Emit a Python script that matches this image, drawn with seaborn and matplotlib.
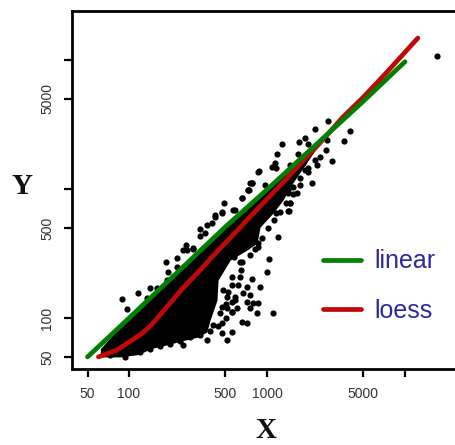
# -*- coding: utf-8 -*-
"""
Log-log scatter of Y against X with linear and loess fits.
"""

import matplotlib
matplotlib.use('Agg')
import matplotlib.pyplot as plt
import seaborn as sns


# =============================================================================
# Data
# =============================================================================

linear_x = [50, 100, 500, 1000, 5000, 10000]
linear_y = [50, 100, 510, 990, 4800, 9700]

loess_x = [60, 81.5, 120, 142, 188, 246, 327, 431, 567, 752, 1000, 1396, 2420, 3550, 5000, 7413, 12400]
loess_y = [50, 56.5, 74, 86, 122, 171, 235, 325, 440, 607, 836, 1216, 2276, 3614, 5160, 8070, 14800]

# the solid part of the cloud, as upper and lower edge
cloud_x = [62, 86, 114, 149, 188, 234, 311, 366, 386, 434, 442, 540, 716, 847, 890, 1105, 1306, 1470, 2420]
cloud_low = [50, 50, 52, 58.5, 62, 66, 71, 78, 96, 138, 197, 281, 337, 381, 507, 651, 822, 1038, 2276]
cloud_high = [58, 86, 114, 150, 190, 238, 316, 374, 394, 444, 452, 552, 730, 865, 908, 1115, 1320, 1480, 2420]

# single points standing clear of the cloud
point_x = [247, 277, 366, 406, 470, 510, 554, 457, 470, 510, 554, 603, 656, 713, 554, 590, 510, 480,
           554, 640, 774, 890, 713, 752, 675, 713, 795, 860, 752, 1105, 841, 1000, 1037, 656, 576,
           1203, 860, 818, 1447, 1470, 1420, 752, 735, 656, 488, 470, 420, 397, 327, 355, 259, 265,
           292, 184, 221, 116, 88.5, 134, 188, 159,
           17100, 4000, 3600, 2760, 2230, 1900, 1710, 1280, 1190, 1140, 1170, 1080, 875, 775, 733,
           570, 1680, 1990, 1470, 2680, 2960, 2420, 2230, 2290, 1990, 2110, 1730, 1550, 1430, 1470,
           1430, 1210, 1170, 970, 1050, 1640, 1830, 1890, 2730]
point_y = [62, 122, 67.5, 88, 76.5, 67.5, 78, 109, 122, 119, 112, 119, 94, 91.5, 134, 146, 146, 165,
           180, 209, 200, 173, 175, 151, 156, 134, 131, 131, 119, 109, 109, 228, 287, 273, 296,
           422, 379, 346, 680, 775, 983, 1110, 983, 846, 783, 660, 610, 542, 488, 454, 368, 337,
           346, 273, 250, 157, 140, 143, 197, 170,
           10740, 2800, 2350, 3370, 2920, 2470, 2300, 2220, 1860, 1580, 1450, 1490, 1390, 1110, 983,
           687, 1870, 2230, 1530, 2000, 1650, 1780, 1680, 1530, 1450, 1120, 1210, 1040, 925, 775,
           680, 822, 648, 1075, 875, 925, 1580, 1400, 2400]

# points along the rim of the cloud, which give it its rough edge
rim_x = [73, 94, 120, 142, 168, 198, 234, 277, 327, 386, 442, 470, 505, 558, 505, 587, 522, 615, 558,
         650, 637, 752, 860, 920, 1020, 1120, 1240, 1370, 1550, 1730, 1990,
         420, 470, 585, 655, 725, 780, 860, 290, 367, 97, 142, 192, 222, 246, 327]
rim_y = [51.6, 50, 54.5, 57.5, 60.7, 63, 66, 71, 74, 79, 87, 92, 100, 111, 128, 138, 159, 180, 208,
         235, 272, 308, 355, 417, 498, 575, 660, 778, 915, 1070, 1360,
         630, 650, 687, 850, 983, 1110, 1350, 347, 525, 117, 170, 227, 291, 337, 432]

x_ticks = [50, 100, 500, 1000, 5000, 10000]
x_labels = ['50', '100', '500', '1000', '5000', '']
y_ticks = [50, 100, 500, 1000, 5000, 10000]
y_labels = ['50', '100', '500', '', '5000', '']


# =============================================================================
# Figure
# =============================================================================

sns.set_theme(style="ticks")
plt.rcParams['font.family'] = ['Liberation Sans', 'DejaVu Sans']

fig = plt.figure(figsize=(4.55, 4.45), dpi=100)
ax = fig.add_axes([72 / 455, 76 / 445, 388 / 455, 358 / 445])

ax.fill_between(cloud_x, cloud_low, cloud_high, color='black', lw=0)
sns.scatterplot(x=point_x, y=point_y, color='black', s=20, linewidth=0, ax=ax)
sns.scatterplot(x=rim_x, y=rim_y, color='black', s=20, linewidth=0, ax=ax)

sns.lineplot(x=loess_x, y=loess_y, color='#C00808', lw=3.4, label='loess', ax=ax)
sns.lineplot(x=linear_x, y=linear_y, color='#008000', lw=3.4, label='linear', ax=ax)

ax.set_xscale('log')
ax.set_yscale('log')
ax.set_xlim(38.6, 25060)
ax.set_ylim(40.3, 23990)

ax.set_xticks(x_ticks, x_labels)
ax.set_yticks(y_ticks, y_labels)
ax.minorticks_off()
ax.tick_params(length=6, width=1.6, color='black', labelsize=10, labelcolor='#333333', pad=7)
plt.setp(ax.get_yticklabels(), rotation=90, va='center')

for side in ['left', 'top', 'bottom']:
    ax.spines[side].set_linewidth(2)
    ax.spines[side].set_color('black')
ax.spines['right'].set_visible(False)

handles, labels = ax.get_legend_handles_labels()
ax.legend(handles[::-1], labels[::-1], loc='center left', frameon=False,
          bbox_to_anchor=(323 / 455, 159 / 445), bbox_transform=fig.transFigure,
          fontsize=18, labelcolor='#2A2A9C', handlelength=1.52, handletextpad=0.52,
          labelspacing=1.0, borderpad=0, borderaxespad=0)

fig.text(266 / 455, 14 / 445, 'X', family='Liberation Serif', weight='bold', size=21,
         ha='center', va='center', color='#111111')
fig.text(22 / 455, 259 / 445, 'Y', family='Liberation Serif', weight='bold', size=21,
         ha='center', va='center', color='#111111')

fig.savefig('out.png', dpi=100)
